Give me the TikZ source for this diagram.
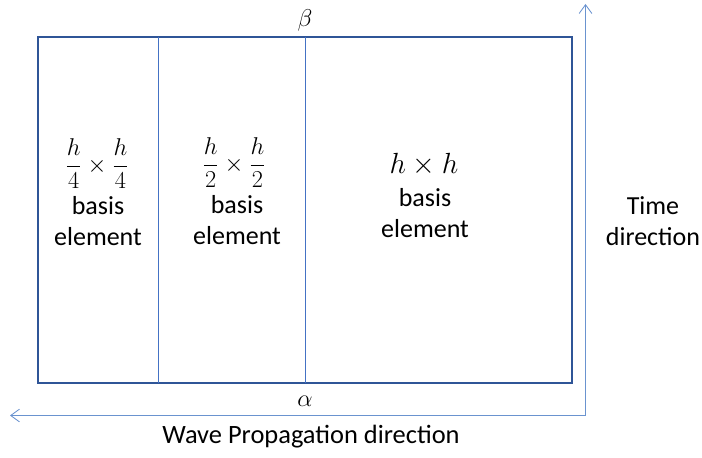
\documentclass[tikz,border=0pt]{standalone}
\usepackage{fontspec}
\setmainfont{Carlito}
\usetikzlibrary{arrows.meta}
\definecolor{cFrame}{HTML}{2F5597}
\definecolor{cDiv}{HTML}{4472C4}
\definecolor{cAxis}{HTML}{6A93CF}
\tikzset{
  frame/.style={draw=cFrame, line width=1.4pt},
  divider/.style={draw=cDiv, line width=0.7pt},
  axis/.style={draw=cAxis, line width=0.6pt, -{Straight Barb[length=2.2mm, width=3.2mm]}},
  lbl/.style={align=center, inner sep=0pt, font=\fontsize{#1}{22.5}\selectfont},
  lbl/.default=18.5,
  mlbl/.style={inner sep=0pt, font=\fontsize{#1}{23}\selectfont},
  mlbl/.default=17,
}

\begin{document}
\begin{tikzpicture}[x=0.025cm, y=-0.025cm]
    \useasboundingbox (0,0) rectangle (702,458);
    % --- frame and cells ---
    \coordinate (tl) at (38,37);
    \coordinate (br) at (572,383);
    \draw[frame] (tl) rectangle (br);
    \coordinate (d1t) at (158.5,37);  \coordinate (d1b) at (158.5,383);
    \coordinate (d2t) at (305.5,37);  \coordinate (d2b) at (305.5,383);
    \draw[divider] (d1t) -- (d1b);
    \draw[divider] (d2t) -- (d2b);
    % --- edge labels ---
    \node[mlbl] (beta) at (305,20) {$\beta$};
    \node[mlbl] (alpha) at (305,401) {$\alpha$};
    % --- cell texts ---
    \node[mlbl=18] (f1) at (97,164) {$\displaystyle\frac{h}{4}\times\frac{h}{4}$};
    \node[lbl] (t1) at (98,221) {basis\\element};
    \node[mlbl=18] (f2) at (234,163) {$\displaystyle\frac{h}{2}\times\frac{h}{2}$};
    \node[lbl] (t2) at (237,220) {basis\\element};
    \node[mlbl=20] (f3) at (424,165) {$h\times h$};
    \node[lbl] (t3) at (425,213) {basis\\element};
    % --- axes ---
    \coordinate (o) at (585.5,415.5);
    \coordinate (up) at (585.5,4);
    \coordinate (left) at (10,415.5);
    \draw[axis] (o) -- (up);
    \draw[axis] (o) -- (left);
    \node[lbl] (time) at (653,221) {Time\\direction};
    \node[lbl=18.8] (wave) at (311,437) {Wave Propagation direction};
\end{tikzpicture}
\end{document}
